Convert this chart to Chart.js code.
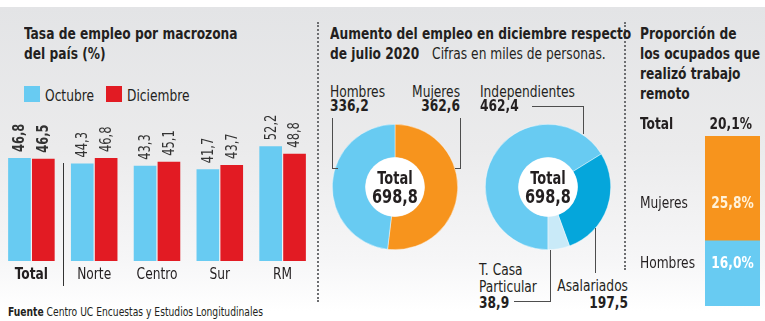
<!DOCTYPE html>
<html><head><meta charset="utf-8">
<script src="https://cdn.jsdelivr.net/npm/chart.js@4.4.1/dist/chart.umd.min.js"></script>
<style>
html,body{margin:0;padding:0;background:#fff;}
#wrap{position:relative;width:765px;height:321px;overflow:hidden;font-family:"DejaVu Sans Condensed","DejaVu Sans",sans-serif;color:#231f20;background:#fff}
#bg{position:absolute;left:0;top:7px;width:765px;height:314px;background:linear-gradient(#e3e4e6 0%,#ebebec 45%,#f6f6f7 80%,#ffffff 97%)}
.t{position:absolute;white-space:nowrap;line-height:1;transform:scaleX(.85);transform-origin:0 0}
.b{font-weight:bold}
.r{text-align:right;transform-origin:100% 0}
.c{text-align:center;transform-origin:50% 0}
canvas{position:absolute}
.ln{position:absolute;background:#4d4d4d}
.dot{position:absolute;width:0;border-left:2px dotted #6d6e71}
.sq{position:absolute;width:16px;height:16px}
</style></head>
<body>
<div id="wrap">
<div id="bg"></div>
<div class="dot" style="left:317px;top:22px;height:280px"></div>
<div class="dot" style="left:624px;top:22px;height:248px"></div>

<div class="t b" style="left:24px;top:24px;font-size:16px;line-height:20px">Tasa de empleo por macrozona<br>del país (%)</div>
<div class="sq" style="left:24px;top:86px;background:#68cbf2"></div>
<div class="t" id="lg1" style="left:45px;top:88px;font-size:16px"></div>
<div class="sq" style="left:106px;top:86px;background:#e21b23"></div>
<div class="t" id="lg2" style="left:127px;top:88px;font-size:16px"></div>
<canvas id="bars" width="314" height="190" style="left:0;top:100px"></canvas>
<div class="t" style="left:8px;top:306px;font-size:12px"><span class="b">Fuente</span> Centro UC Encuestas y Estudios Longitudinales</div>

<div class="t b" style="left:330px;top:24px;font-size:16px;line-height:20px">Aumento del empleo en diciembre respecto<br>de julio 2020 <span style="font-weight:normal;margin-left:10px">Cifras en miles de personas.</span></div>

<canvas id="d1" width="126" height="126" style="left:332px;top:124px"></canvas>
<canvas id="d2" width="126" height="126" style="left:485px;top:124px"></canvas>
<div class="t b c" style="left:332px;top:170px;width:126px;font-size:17px">Total</div>
<div class="t b c" id="tot1" style="left:332px;top:187px;width:126px;font-size:19px"></div>
<div class="t b c" style="left:485px;top:170px;width:126px;font-size:17px">Total</div>
<div class="t b c" id="tot2" style="left:485px;top:187px;width:126px;font-size:19px"></div>

<div class="t" id="hL" style="left:330px;top:84px;font-size:16px"></div>
<div class="t b" id="hV" style="left:330px;top:98px;font-size:16px"></div>
<div class="t r" id="mL" style="left:360px;width:100px;top:84px;font-size:16px"></div>
<div class="t b r" id="mV" style="left:360px;width:100px;top:98px;font-size:16px"></div>
<div class="ln" style="left:332px;top:118px;width:1px;height:51px"></div>
<div class="ln" style="left:332px;top:168px;width:6px;height:1px"></div>
<div class="ln" style="left:460px;top:118px;width:1px;height:51px"></div>
<div class="ln" style="left:455px;top:168px;width:6px;height:1px"></div>

<div class="t" id="iL" style="left:480px;top:84px;font-size:16px"></div>
<div class="t b" id="iV" style="left:480px;top:98px;font-size:16px"></div>
<div class="ln" style="left:532px;top:106px;width:52px;height:1px"></div>
<div class="ln" style="left:583px;top:106px;width:1px;height:28px"></div>

<div class="t" id="cL" style="left:479px;top:261px;font-size:16px;line-height:17px"></div>
<div class="t b" id="cV" style="left:479px;top:295px;font-size:16px"></div>
<div class="ln" style="left:514px;top:301px;width:37px;height:1px"></div>
<div class="ln" style="left:550px;top:250px;width:1px;height:52px"></div>

<div class="t r" id="aL" style="left:528px;width:100px;top:278px;font-size:16px"></div>
<div class="t b r" id="aV" style="left:528px;width:100px;top:295px;font-size:16px"></div>
<div class="ln" style="left:595px;top:228px;width:1px;height:45px"></div>

<div class="t b" style="left:640px;top:24px;font-size:16px;line-height:20px">Proporción de<br>los ocupados que<br>realizó trabajo<br>remoto</div>
<div class="t b" style="left:640px;top:116px;font-size:16px">Total</div>
<div class="t b r" id="rT" style="left:652px;width:100px;top:116px;font-size:16px"></div>
<canvas id="rem" width="55" height="170" style="left:705px;top:136px"></canvas>
<div class="t" id="rmL" style="left:640px;top:195px;font-size:16px"></div>
<div class="t b c" id="rmV" style="left:705px;width:55px;top:195px;font-size:16px;color:#fff2d9"></div>
<div class="t" id="rhL" style="left:640px;top:255px;font-size:16px"></div>
<div class="t b c" id="rhV" style="left:705px;width:55px;top:255px;font-size:16px;color:#fff"></div>
</div>

<script>
// ---- data ----
const categories = ["Total", "Norte", "Centro", "Sur", "RM"];
const seriesNames = ["Octubre", "Diciembre"];
const octubre = [46.8, 44.3, 43.3, 41.7, 52.2];
const diciembre = [46.5, 46.8, 45.1, 43.7, 48.8];

const genderLabels = ["Mujeres", "Hombres"];
const genderValues = [362.6, 336.2];

const typeLabels = ["Independientes", "Asalariados", "T. Casa Particular"];
const typeValues = [462.4, 197.5, 38.9];

const remoteLabels = ["Hombres", "Mujeres"];
const remoteValues = [16.0, 25.8];
const remoteTotal = 20.1;

// ---- helpers ----
const FONT = '"DejaVu Sans Condensed","DejaVu Sans",sans-serif';
const SX = 0.85;
const BLUE = '#68cbf2', RED = '#e21b23', ORANGE = '#f7941d', DBLUE = '#05a6db', LBLUE = '#c9eaf8';
const fmt = v => v.toFixed(1).replace('.', ',');
const $ = id => document.getElementById(id);
Chart.defaults.font.family = FONT;
Chart.defaults.color = '#231f20';

$('lg1').textContent = seriesNames[0];
$('lg2').textContent = seriesNames[1];

// ---- bar chart ----
const barLabels = {
  id: 'barLabels',
  afterDatasetsDraw(chart) {
    const ctx = chart.ctx;
    chart.data.datasets.forEach((ds, di) => {
      chart.getDatasetMeta(di).data.forEach((bar, i) => {
        ctx.save();
        ctx.translate(bar.x + 1, bar.y - 6);
        ctx.rotate(-Math.PI / 2);
        ctx.scale(SX, 1);
        ctx.font = (i === 0 ? 'bold ' : '') + '15px ' + FONT;
        ctx.fillStyle = '#333';
        ctx.textAlign = 'left';
        ctx.textBaseline = 'middle';
        ctx.fillText(fmt(ds.data[i]), 0, 0);
        ctx.restore();
      });
    });
    const xs = chart.scales.x;
    const bottom = chart.chartArea.bottom;
    // category labels
    chart.data.labels.forEach((lab, i) => {
      ctx.save();
      ctx.translate(xs.getPixelForValue(i), bottom + 14);
      ctx.scale(SX, 1);
      ctx.font = (i === 0 ? 'bold ' : '') + '16px ' + FONT;
      ctx.fillStyle = '#231f20';
      ctx.textAlign = 'center';
      ctx.textBaseline = 'middle';
      ctx.fillText(lab, 0, 0);
      ctx.restore();
    });
    // separator between Total and the zones
    const sx = Math.round((xs.getPixelForValue(0) + xs.getPixelForValue(1)) / 2) + 0.5;
    ctx.save();
    ctx.strokeStyle = '#333';
    ctx.lineWidth = 1;
    ctx.beginPath();
    ctx.moveTo(sx, 63);
    ctx.lineTo(sx, 186);
    ctx.stroke();
    ctx.restore();
  }
};
new Chart($('bars'), {
  type: 'bar',
  data: {
    labels: categories,
    datasets: [
      { label: seriesNames[0], data: octubre, backgroundColor: BLUE, categoryPercentage: 0.76, barPercentage: 0.95 },
      { label: seriesNames[1], data: diciembre, backgroundColor: RED, categoryPercentage: 0.76, barPercentage: 0.95 }
    ]
  },
  options: {
    responsive: false, animation: false,
    layout: { padding: { left: 0, right: 0, top: 0, bottom: 29 } },
    plugins: { legend: { display: false }, tooltip: { enabled: false } },
    scales: {
      x: { display: false },
      y: { display: false, min: 0, max: 73.2 }
    }
  },
  plugins: [barLabels]
});

// ---- doughnuts ----
const hole = {
  id: 'hole',
  afterDatasetsDraw(chart) {
    const arc = chart.getDatasetMeta(0).data[0];
    if (!arc) return;
    const ctx = chart.ctx;
    ctx.save();
    ctx.fillStyle = '#fff';
    ctx.beginPath();
    ctx.arc(arc.x, arc.y, arc.innerRadius, 0, Math.PI * 2);
    ctx.fill();
    ctx.restore();
  }
};
function donut(id, labels, values, colors, rotation) {
  new Chart($(id), {
    type: 'doughnut',
    data: { labels, datasets: [{ data: values, backgroundColor: colors, borderWidth: 0.6, borderColor: 'rgba(255,255,255,0.7)' }] },
    options: {
      responsive: false, animation: false, cutout: '47%', rotation,
      layout: { padding: 0 },
      plugins: { legend: { display: false }, tooltip: { enabled: false } }
    },
    plugins: [hole]
  });
}
donut('d1', genderLabels, genderValues, [ORANGE, BLUE], 0);
donut('d2', typeLabels, typeValues, [BLUE, DBLUE, LBLUE], 180);

const sum = a => a.reduce((s, v) => s + v, 0);
$('tot1').textContent = fmt(sum(genderValues));
$('tot2').textContent = fmt(sum(typeValues));
$('hL').textContent = genderLabels[1]; $('hV').textContent = fmt(genderValues[1]);
$('mL').textContent = genderLabels[0]; $('mV').textContent = fmt(genderValues[0]);
$('iL').textContent = typeLabels[0]; $('iV').textContent = fmt(typeValues[0]);
$('aL').textContent = typeLabels[1]; $('aV').textContent = fmt(typeValues[1]);
$('cL').innerHTML = 'T. Casa<br>Particular'; $('cV').textContent = fmt(typeValues[2]);

// ---- remote work stacked bar ----
new Chart($('rem'), {
  type: 'bar',
  data: {
    labels: ['Total'],
    datasets: [
      { label: remoteLabels[0], data: [remoteValues[0]], backgroundColor: BLUE, categoryPercentage: 1, barPercentage: 1 },
      { label: remoteLabels[1], data: [remoteValues[1]], backgroundColor: ORANGE, categoryPercentage: 1, barPercentage: 1 }
    ]
  },
  options: {
    responsive: false, animation: false,
    layout: { padding: 0 },
    plugins: { legend: { display: false }, tooltip: { enabled: false } },
    scales: {
      x: { display: false, stacked: true },
      y: { display: false, stacked: true, min: 0, max: sum(remoteValues) }
    }
  }
});
$('rT').textContent = fmt(remoteTotal) + '%';
$('rmL').textContent = remoteLabels[1]; $('rmV').textContent = fmt(remoteValues[1]) + '%';
$('rhL').textContent = remoteLabels[0]; $('rhV').textContent = fmt(remoteValues[0]) + '%';
</script>
</body></html>
